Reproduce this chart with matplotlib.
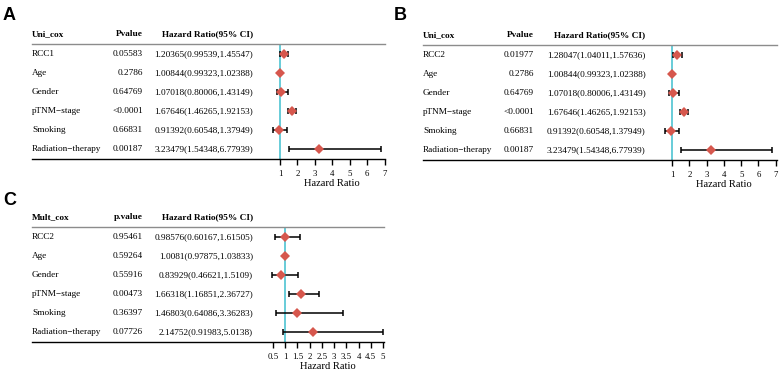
import matplotlib
matplotlib.use('Agg')
import matplotlib.pyplot as plt
import matplotlib.transforms as mtransforms
import numpy as np

plt.rcParams['font.family'] = ['Liberation Serif', 'DejaVu Serif']

W, H = 783, 377

variables_a = ['RCC1', 'Age', 'Gender', 'pTNM\u2212stage', 'Smoking', 'Radiation\u2212therapy']
variables_bc = ['RCC2', 'Age', 'Gender', 'pTNM\u2212stage', 'Smoking', 'Radiation\u2212therapy']

# panel A: univariate cox with RCC1
p_a = ['0.05583', '0.2786', '0.64769', '<0.0001', '0.66831', '0.00187']
hr_a = [1.20365, 1.00844, 1.07018, 1.67646, 0.91392, 3.23479]
lo_a = [0.99539, 0.99323, 0.80006, 1.46265, 0.60548, 1.54348]
hi_a = [1.45547, 1.02388, 1.43149, 1.92153, 1.37949, 6.77939]
ci_a = ['1.20365(0.99539,1.45547)', '1.00844(0.99323,1.02388)', '1.07018(0.80006,1.43149)',
        '1.67646(1.46265,1.92153)', '0.91392(0.60548,1.37949)', '3.23479(1.54348,6.77939)']

# panel B: univariate cox with RCC2
p_b = ['0.01977', '0.2786', '0.64769', '<0.0001', '0.66831', '0.00187']
hr_b = [1.28047, 1.00844, 1.07018, 1.67646, 0.91392, 3.23479]
lo_b = [1.04011, 0.99323, 0.80006, 1.46265, 0.60548, 1.54348]
hi_b = [1.57636, 1.02388, 1.43149, 1.92153, 1.37949, 6.77939]
ci_b = ['1.28047(1.04011,1.57636)', '1.00844(0.99323,1.02388)', '1.07018(0.80006,1.43149)',
        '1.67646(1.46265,1.92153)', '0.91392(0.60548,1.37949)', '3.23479(1.54348,6.77939)']

# panel C: multivariate cox
p_c = ['0.95461', '0.59264', '0.55916', '0.00473', '0.36397', '0.07726']
hr_c = [0.98576, 1.0081, 0.83929, 1.66318, 1.46803, 2.14752]
lo_c = [0.60167, 0.97875, 0.46621, 1.16851, 0.64086, 0.91983]
hi_c = [1.61505, 1.03833, 1.5109, 2.36727, 3.36283, 5.0138]
ci_c = ['0.98576(0.60167,1.61505)', '1.0081(0.97875,1.03833)', '0.83929(0.46621,1.5109)',
        '1.66318(1.16851,2.36727)', '1.46803(0.64086,3.36283)', '2.14752(0.91983,5.0138)']

ticks_ab = [1, 2, 3, 4, 5, 6, 7]
ticks_c = [0.5, 1, 1.5, 2, 2.5, 3, 3.5, 4, 4.5, 5]
tick_labels_c = ['0.5', '1', '1.5', '2', '2.5', '3', '3.5', '4', '4.5', '5']

RED = '#d6574d'
CYAN = '#5cc8d6'
FS = 6.7

fig = plt.figure(figsize=(W / 100, H / 100), dpi=100)


def panel(letter, lx, ly, x0, x1, ytop, ybot, one_px, px_unit,
          col_p, col_ci, head, phead, names, pv, hr, lo, hi, ci, ticks, tlabels):
    ax = fig.add_axes([x0 / W, 1 - ybot / H, (x1 - x0) / W, (ybot - ytop) / H])
    xmin = 1 - (one_px - x0) / px_unit
    xmax = 1 + (x1 - one_px) / px_unit
    ax.set_xlim(xmin, xmax)
    n = len(names)
    ax.set_ylim(n - 0.5, -0.5)
    y = np.arange(n)
    hr = np.array(hr)
    err = [hr - np.array(lo), np.array(hi) - hr]
    ax.axvline(1, color=CYAN, lw=1.3, zorder=1)
    ax.errorbar(hr, y, xerr=err, fmt='none', ecolor='black', elinewidth=1.1,
                capsize=2.2, capthick=1.1, zorder=2)
    ax.plot(hr, y, 'D', color=RED, markersize=5.5, zorder=3, markeredgewidth=0)

    for s in ['left', 'right']:
        ax.spines[s].set_visible(False)
    ax.spines['top'].set_color('#8c8c8c')
    ax.spines['top'].set_linewidth(1.0)
    ax.spines['bottom'].set_linewidth(1.0)
    ax.set_yticks([])
    ax.set_xticks(ticks)
    ax.set_xticklabels(tlabels, fontsize=6.3)
    ax.tick_params(axis='x', length=4, width=1, pad=4)

    mid = (ticks[0] + ticks[-1]) / 2
    ax.text(mid, n + 0.78, 'Hazard Ratio', ha='center', va='center', fontsize=7.6, clip_on=False)

    tr = mtransforms.blended_transform_factory(ax.transAxes, ax.transData)
    fx = lambda px: (px - x0) / (x1 - x0)
    hy = -0.5 - 10 / 19.0
    ax.text(fx(x0), hy, head, transform=tr, fontsize=FS, fontweight='bold', va='center', ha='left')
    ax.text(fx(col_p), hy, phead, transform=tr, fontsize=FS, fontweight='bold', va='center', ha='right')
    ax.text(fx(col_ci), hy, 'Hazard Ratio(95% CI)', transform=tr, fontsize=FS,
            fontweight='bold', va='center', ha='right')
    for i in range(n):
        ax.text(fx(x0), i, names[i], transform=tr, fontsize=FS, va='center', ha='left')
        ax.text(fx(col_p), i, pv[i], transform=tr, fontsize=FS, va='center', ha='right')
        ax.text(fx(col_ci), i, ci[i], transform=tr, fontsize=FS, va='center', ha='right')

    fig.text(lx / W, 1 - ly / H, letter, fontsize=13, fontweight='bold',
             family='Liberation Sans', ha='left', va='center')


panel('A', 3, 15, 32, 385, 44.3, 158.7, 280, 17.42, 143, 253,
      'Uni_cox', 'Pvalue', variables_a, p_a, hr_a, lo_a, hi_a, ci_a,
      ticks_ab, [str(t) for t in ticks_ab])
panel('B', 394, 15, 423, 777, 45.3, 160, 672, 17.3, 534, 645.5,
      'Uni_cox', 'Pvalue', variables_bc, p_b, hr_b, lo_b, hi_b, ci_b,
      ticks_ab, [str(t) for t in ticks_ab])
panel('C', 3, 200, 32, 384, 227.3, 341.7, 285.2, 24.44, 143, 253,
      'Mult_cox', 'p.value', variables_bc, p_c, hr_c, lo_c, hi_c, ci_c,
      ticks_c, tick_labels_c)

fig.savefig('out.png', dpi=100)
